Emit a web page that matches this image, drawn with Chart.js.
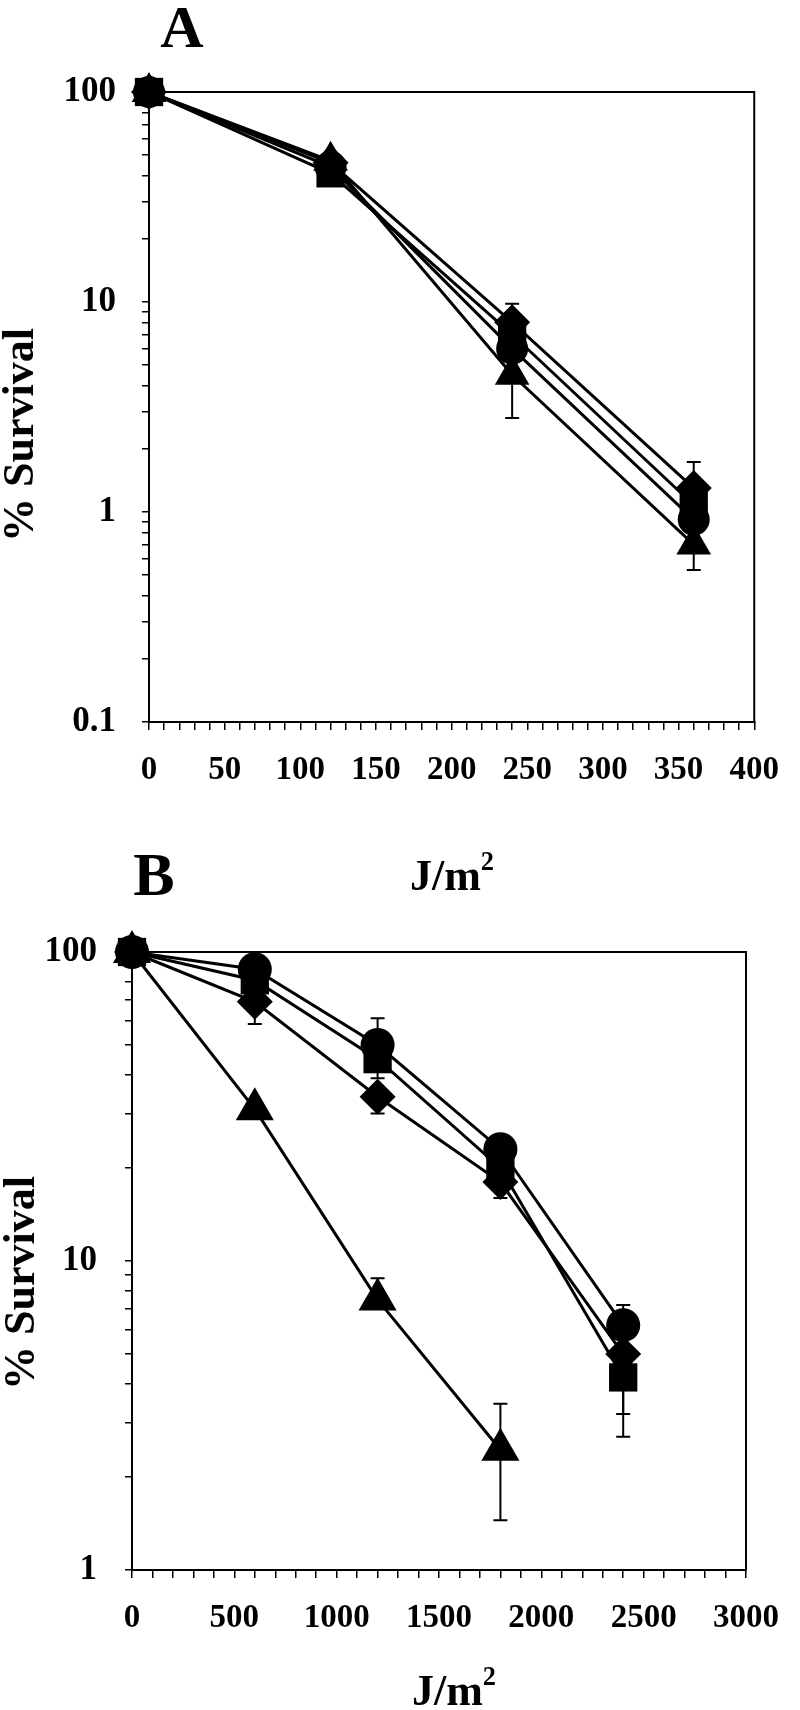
<!DOCTYPE html>
<html>
<head>
<meta charset="utf-8">
<script src="https://cdn.jsdelivr.net/npm/chart.js@4"></script>
<style>
  body { margin: 0; background: #fff; }
  #page { position: relative; width: 800px; height: 1710px; overflow: hidden;
          font-family: 'Liberation Serif', 'Times New Roman', serif; font-weight: bold; color: #000; }
  canvas { position: absolute; left: 0; }
  .txt { position: absolute; white-space: nowrap; transform: translate(-50%, -50%); line-height: 1; }
  .rot { transform: translate(-50%, -50%) rotate(-90deg); }
  sup { font-size: 0.6em; vertical-align: 0.75em; line-height: 0; }
</style>
</head>
<body>
<div id="page">
  <canvas id="chartA" width="800" height="800" style="top:0"></canvas>
  <canvas id="chartB" width="800" height="790" style="top:880px"></canvas>

  <div class="txt" style="left:182px; top:27px; font-size:60px;">A</div>
  <div class="txt rot" style="left:19px; top:435px; font-size:44px;">% Survival</div>
  <div class="txt" style="left:452px; top:876px; font-size:44px;">J/m<sup>2</sup></div>

  <div class="txt" style="left:154px; top:874px; font-size:62px;">B</div>
  <div class="txt rot" style="left:20px; top:1283px; font-size:44px;">% Survival</div>
  <div class="txt" style="left:454px; top:1691px; font-size:44px;">J/m<sup>2</sup></div>
</div>

<script>
// ------------------------
// DATA - panel A
// ------------------------
const dosesA = [0, 120, 240, 360];
const circleA = [100, 44, 6.0, 0.92];
const squareA = [100, 41, 7.0, 1.08];
const diamondA = [100, 46, 8.0, 1.30];
const triangleA = [100, 47, 4.5, 0.70];
// error bar lengths above / below each point
const diamondUpA = [0, 0, 1.8, 0.43];
const diamondDownA = [0, 0, 0, 0];
const triangleUpA = [0, 0, 0, 0];
const triangleDownA = [0, 0, 1.7, 0.17];
const xLabelsA = [0, 50, 100, 150, 200, 250, 300, 350, 400];
const yLabelsA = [0.1, 1, 10, 100];

// ------------------------
// DATA - panel B
// ------------------------
const dosesB = [0, 600, 1200, 1800, 2400];
const circleB = [100, 88, 50, 23, 6.2];
const squareB = [100, 81, 45, 20, 4.2];
const diamondB = [100, 69, 34, 18, 5.0];
const triangleB = [100, 31, 7.5, 2.45];
const circleUpB = [0, 0, 11, 0, 1.0];
const circleDownB = [0, 0, 11, 0, 0];
const squareUpB = [0, 0, 0, 0, 0];
const squareDownB = [0, 0, 0, 0, 1.0];
const diamondUpB = [0, 0, 0, 0, 0];
const diamondDownB = [0, 10.5, 4, 2, 2.3];
const triangleUpB = [0, 0, 1.3, 1.0];
const triangleDownB = [0, 0, 0, 1.0];
const xLabelsB = [0, 500, 1000, 1500, 2000, 2500, 3000];
const yLabelsB = [1, 10, 100];

// ------------------------
// HELPERS
// ------------------------
const FONT = "'Liberation Serif', 'Times New Roman', serif";

function points(xs, ys) {
  return ys.map((v, i) => ({ x: xs[i], y: v }));
}

function series(xs, ys, up, down, style, radius) {
  return {
    data: points(xs, ys),
    errUp: up,
    errDown: down,
    borderColor: "#000",
    borderWidth: 3,
    backgroundColor: "#000",
    pointStyle: style,
    pointRadius: radius,
    pointBorderWidth: 0,
    pointBackgroundColor: "#000",
    tension: 0,
    clip: false
  };
}

function logTicks(labels) {
  // minor marks 1..9 in every decade, labels only on the decades
  const out = [];
  for (let k = 0; k < labels.length - 1; k++) {
    for (let d = 1; d <= 9; d++) {
      out.push({ value: Number((labels[k] * d).toPrecision(3)) });
    }
  }
  out.push({ value: labels[labels.length - 1] });
  return out;
}

function linTicks(max, step) {
  const out = [];
  for (let v = 0; v <= max; v += step) out.push({ value: v });
  return out;
}

// error bars + frame round the plot
const errorBars = {
  id: "errorBars",
  beforeDatasetsDraw(chart) {
    const ctx = chart.ctx;
    const xs = chart.scales.x;
    const ys = chart.scales.y;
    const a = chart.chartArea;
    ctx.save();
    ctx.strokeStyle = "#000";
    ctx.lineWidth = 2;
    ctx.strokeRect(a.left, a.top, a.right - a.left, a.bottom - a.top);

    chart.data.datasets.forEach(ds => {
      ds.data.forEach((p, i) => {
        const up = (ds.errUp || [])[i] || 0;
        const down = (ds.errDown || [])[i] || 0;
        if (!up && !down) return;
        const x = xs.getPixelForValue(p.x);
        const y0 = ys.getPixelForValue(p.y);
        ctx.beginPath();
        if (up) {
          const yHi = ys.getPixelForValue(p.y + up);
          ctx.moveTo(x, y0); ctx.lineTo(x, yHi);
          ctx.moveTo(x - 7, yHi); ctx.lineTo(x + 7, yHi);
        }
        if (down) {
          const yLo = ys.getPixelForValue(p.y - down);
          ctx.moveTo(x, y0); ctx.lineTo(x, yLo);
          ctx.moveTo(x - 7, yLo); ctx.lineTo(x + 7, yLo);
        }
        ctx.stroke();
      });
    });
    ctx.restore();
  }
};

function makeChart(id, datasets, cfg) {
  return new Chart(document.getElementById(id), {
    type: "line",
    data: { datasets },
    plugins: [errorBars],
    options: {
      responsive: false,
      animation: false,
      events: [],
      layout: { autoPadding: false, padding: cfg.padding },
      plugins: { legend: { display: false }, tooltip: { enabled: false } },
      scales: {
        x: {
          type: "linear",
          min: 0,
          max: cfg.xMax,
          afterBuildTicks: s => { s.ticks = linTicks(cfg.xMax, cfg.xStep); },
          afterFit: s => { s.height = cfg.xHeight; },
          border: { display: true, color: "#000", width: 2 },
          grid: { drawOnChartArea: false, drawTicks: true, tickLength: 8, color: "#000", lineWidth: 1.5 },
          ticks: {
            autoSkip: false,
            maxRotation: 0,
            padding: 21,
            color: "#000",
            font: { family: FONT, size: 33, weight: "bold" },
            callback: v => cfg.xLabels.includes(v) ? String(v) : ""
          }
        },
        y: {
          type: "logarithmic",
          min: cfg.yLabels[0],
          max: cfg.yLabels[cfg.yLabels.length - 1],
          afterBuildTicks: s => { s.ticks = logTicks(cfg.yLabels); },
          afterFit: s => { s.width = cfg.yWidth; },
          border: { display: true, color: "#000", width: 2 },
          grid: { drawOnChartArea: false, drawTicks: true, tickLength: 7, color: "#000", lineWidth: 1.5 },
          ticks: {
            autoSkip: false,
            padding: cfg.yPad,
            color: "#000",
            font: { family: FONT, size: 35, weight: "bold" },
            callback: v => cfg.yLabels.includes(v) ? String(v) : ""
          }
        }
      }
    }
  });
}

// ------------------------
// PANEL A
// ------------------------
makeChart("chartA", [
  series(dosesA, circleA, null, null, "circle", 16),
  series(dosesA, squareA, null, null, "rect", 20),
  series(dosesA, diamondA, diamondUpA, diamondDownA, "rectRot", 18),
  series(dosesA, triangleA, triangleUpA, triangleDownA, "triangle", 20)
], {
  padding: { top: 92, right: 39, left: 0, bottom: 0 },
  xMax: 400, xStep: 10, xLabels: xLabelsA, xHeight: 78,
  yLabels: yLabelsA, yWidth: 149, yPad: 26
});

// ------------------------
// PANEL B
// ------------------------
makeChart("chartB", [
  series(dosesB, circleB, circleUpB, circleDownB, "circle", 17),
  series(dosesB, squareB, squareUpB, squareDownB, "rect", 20),
  series(dosesB, diamondB, diamondUpB, diamondDownB, "rectRot", 18),
  series(dosesB.slice(0, triangleB.length), triangleB, triangleUpB, triangleDownB, "triangle", 22)
], {
  padding: { top: 72, right: 32, left: 0, bottom: 0 },
  xMax: 3000, xStep: 100, xLabels: xLabelsB, xHeight: 100,
  yLabels: yLabelsB, yWidth: 132, yPad: 28
});
</script>
</body>
</html>
